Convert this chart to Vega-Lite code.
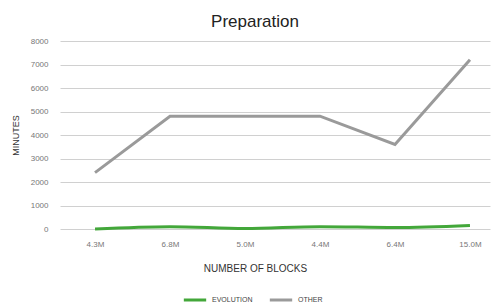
{
  "$schema": "https://vega.github.io/schema/vega-lite/v6.json",
  "autosize": {"type": "none"},
  "width": 430,
  "height": 188,
  "padding": {"left": 60, "top": 41, "right": 2, "bottom": 75},
  "background": "white",
  "title": {"text": "Preparation", "font": "Liberation Sans", "fontSize": 17, "fontWeight": "normal", "color": "#222", "anchor": "middle", "offset": 6, "dx": -20},
  "config": {"view": {"stroke": null}, "font": "Liberation Sans"},
  "data": {"values": [
    {"blocks": "4.3M", "series": "EVOLUTION", "minutes": 0},
    {"blocks": "6.8M", "series": "EVOLUTION", "minutes": 100},
    {"blocks": "5.0M", "series": "EVOLUTION", "minutes": 20},
    {"blocks": "4.4M", "series": "EVOLUTION", "minutes": 100},
    {"blocks": "6.4M", "series": "EVOLUTION", "minutes": 60},
    {"blocks": "15.0M", "series": "EVOLUTION", "minutes": 150},
    {"blocks": "4.3M", "series": "OTHER", "minutes": 2400},
    {"blocks": "6.8M", "series": "OTHER", "minutes": 4800},
    {"blocks": "5.0M", "series": "OTHER", "minutes": 4800},
    {"blocks": "4.4M", "series": "OTHER", "minutes": 4800},
    {"blocks": "6.4M", "series": "OTHER", "minutes": 3600},
    {"blocks": "15.0M", "series": "OTHER", "minutes": 7200}
  ]},
  "encoding": {
    "x": {"field": "blocks", "type": "ordinal", "sort": null,
      "scale": {"type": "point", "padding": 0.367, "align": 0.636},
      "axis": {"title": "NUMBER OF BLOCKS", "labelAngle": 0, "domain": false, "ticks": false, "grid": false,
        "labelFontSize": 8, "labelColor": "#777", "labelPadding": 11,
        "titleFontSize": 10, "titleFontWeight": "normal", "titleColor": "#333", "titlePadding": 15, "titleX": 195}},
    "y": {"field": "minutes", "type": "quantitative",
      "scale": {"domain": [0, 8000]},
      "axis": {"title": "MINUTES", "values": [0,1000,2000,3000,4000,5000,6000,7000,8000], "format": "d",
        "domain": false, "ticks": false, "gridColor": "#d0d0d0", "gridWidth": 1,
        "labelFontSize": 8, "labelColor": "#777", "labelPadding": 12,
        "titleFontSize": 9, "titleFontWeight": "normal", "titleColor": "#333", "titlePadding": 10}},
    "color": {"field": "series", "type": "nominal",
      "scale": {"domain": ["EVOLUTION", "OTHER"], "range": ["#43a73a", "#9a9a9a"]},
      "legend": {"title": null, "orient": "none", "direction": "horizontal", "legendX": 122, "legendY": 246,
        "symbolType": "stroke", "symbolSize": 500, "symbolStrokeWidth": 3,
        "labelFontSize": 7, "labelColor": "#444", "columnPadding": 10}}
  },
  "layer": [
    {"transform": [{"filter": "datum.series === 'OTHER'"}],
     "mark": {"type": "line", "strokeWidth": 3, "interpolate": "linear"}},
    {"transform": [{"filter": "datum.series === 'EVOLUTION'"}],
     "mark": {"type": "line", "strokeWidth": 3, "interpolate": "monotone"}}
  ]
}
